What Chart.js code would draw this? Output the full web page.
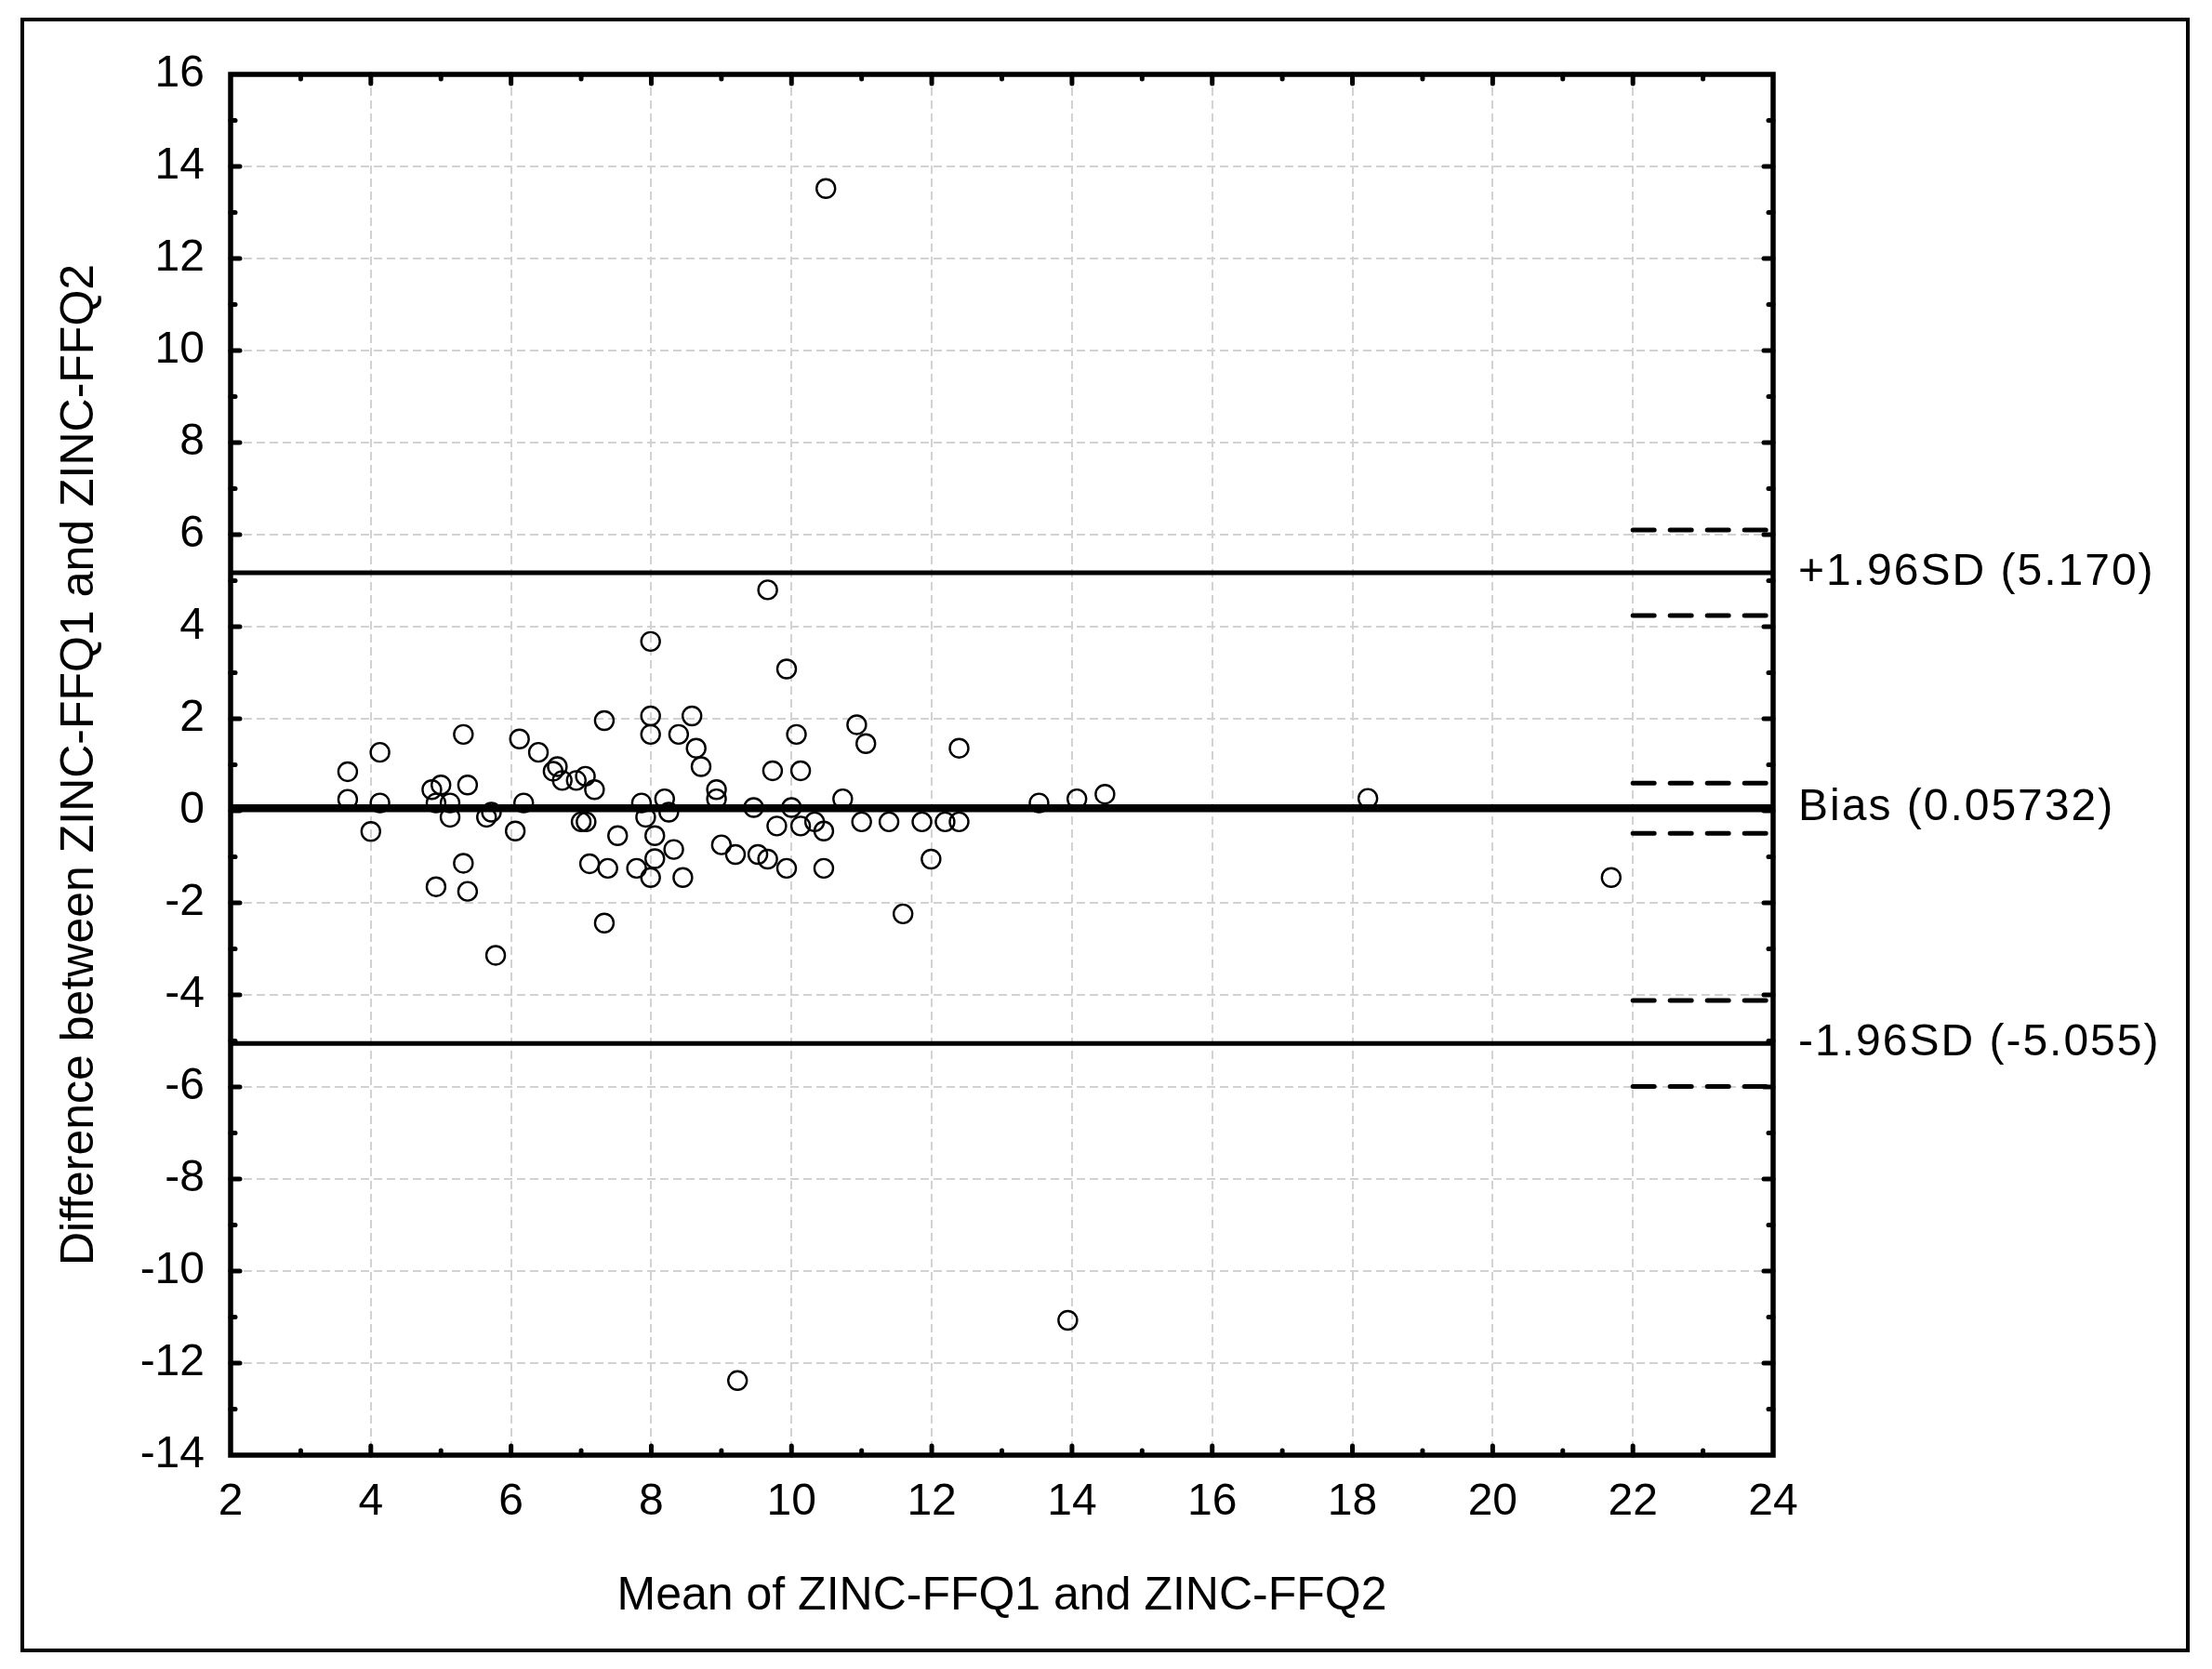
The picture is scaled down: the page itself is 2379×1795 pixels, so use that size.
<!DOCTYPE html>
<html>
<head>
<meta charset="utf-8">
<script src="https://cdn.jsdelivr.net/npm/chart.js@4.4.1/dist/chart.umd.min.js"></script>
<style>
  html, body { margin: 0; padding: 0; background: #fff; }
  #wrap { width: 2379px; height: 1795px; }
</style>
</head>
<body>
<div id="wrap"><canvas id="bland" width="2379" height="1795"></canvas></div>
<script>
// Bland-Altman data: mean of the two FFQs (x) and their difference (y)
const meanValues = [
  3.67, 3.67, 4.00, 4.13, 4.13, 4.87, 5.00, 4.93, 5.13, 5.13,
  4.93, 5.32, 5.38, 5.32, 5.38, 5.65, 5.72, 5.78, 6.06, 6.12,
  6.18, 6.39, 6.66, 6.60, 6.73, 6.93, 7.06, 7.19, 7.00, 7.07,
  7.33, 7.12, 7.38, 7.33, 7.52, 7.79, 7.86, 7.92, 7.99, 7.99,
  7.99, 7.99, 8.05, 8.05, 8.19, 8.25, 8.32, 8.39, 8.45, 8.58,
  8.64, 8.71, 8.93, 8.93, 9.00, 9.20, 9.46, 9.52, 9.66, 9.66,
  9.73, 9.79, 9.93, 9.93, 10.00, 10.07, 10.13, 10.13, 10.33, 10.46,
  10.46, 10.73, 10.93, 11.00, 11.06, 11.39, 11.59, 11.86, 11.99, 12.19,
  12.39, 12.39, 13.53, 14.07, 14.47, 10.49, 9.23, 13.94, 18.22, 21.69
];
const diffValues = [
  0.85, 0.25, -0.45, 1.27, 0.17, 0.46, 0.56, 0.17, 0.17, -0.14,
  -1.65, 1.66, 0.56, -1.14, -1.75, -0.14, -0.03, -3.14, -0.44, 1.56,
  0.17, 1.27, 0.96, 0.86, 0.66, 0.66, 0.75, 0.46, -0.24, -0.24,
  1.96, -1.15, -1.25, -2.44, -0.54, -1.25, 0.17, -0.14, 3.68, 2.06,
  1.66, -1.45, -0.54, -1.04, 0.26, -0.03, -0.84, 1.66, -1.45, 2.06,
  1.36, 0.96, 0.46, 0.26, -0.74, -0.95, 0.07, -0.95, -1.05, 4.80,
  0.87, -0.33, 3.08, -1.25, 0.07, 1.66, 0.87, -0.33, -0.24, -0.44,
  -1.25, 0.26, 1.87, -0.24, 1.46, -0.24, -2.24, -0.24, -1.05, -0.24,
  -0.24, 1.36, 0.17, 0.26, 0.36, 13.52, -12.38, -11.07, 0.27, -1.45
];

// bias and limits of agreement, with their confidence limits
const limitValues = [5.170, 0.05732, -5.055];
const limitLabels = ["+1.96SD (5.170)", "Bias (0.05732)", "-1.96SD (-5.055)"];
const limitWidths = [5, 8.5, 5];
const ciValues = [6.10, 4.24, 0.60, -0.49, -4.12, -5.99];
const ciRange = [22, 24];

const xRange = [2, 24];
const yRange = [-14, 16];
const xTitle = "Mean of ZINC-FFQ1 and ZINC-FFQ2";
const yTitle = "Difference between ZINC-FFQ1 and ZINC-FFQ2";

const FONT = '"Liberation Sans", Arial, sans-serif';

const datasets = [{
  label: "points",
  data: meanValues.map((m, i) => ({ x: m, y: diffValues[i] })),
  pointStyle: "circle",
  pointRadius: 10,
  pointBorderWidth: 2.4,
  pointBorderColor: "#000",
  pointBackgroundColor: "rgba(0,0,0,0)",
  showLine: false
}];

limitValues.forEach((v, i) => {
  datasets.push({
    label: limitLabels[i],
    data: [{ x: xRange[0], y: v }, { x: xRange[1], y: v }],
    showLine: true,
    borderColor: "#000",
    borderWidth: limitWidths[i],
    pointRadius: 0
  });
});

ciValues.forEach(v => {
  datasets.push({
    label: "ci",
    data: [{ x: ciRange[0], y: v }, { x: ciRange[1], y: v }],
    showLine: true,
    borderColor: "#000",
    borderWidth: 5,
    borderDash: [23, 17],
    borderCapStyle: "round",
    pointRadius: 0
  });
});

// inward ticks, plot frame, outer frame and the limit labels
const framePlugin = {
  id: "frame",
  afterDraw(chart) {
    const { ctx, chartArea: a, scales: { x, y } } = chart;
    const seg = (x1, y1, x2, y2) => {
      ctx.beginPath(); ctx.moveTo(x1, y1); ctx.lineTo(x2, y2); ctx.stroke();
    };
    ctx.save();
    ctx.strokeStyle = "#000";
    ctx.lineWidth = 5;
    ctx.lineCap = "round";
    for (let v = xRange[0] + 1; v < xRange[1]; v++) {
      const px = x.getPixelForValue(v);
      const len = v % 2 === 0 ? 10 : 5;
      seg(px, a.bottom, px, a.bottom - len);
      seg(px, a.top, px, a.top + len);
    }
    for (let v = yRange[0] + 1; v < yRange[1]; v++) {
      const py = y.getPixelForValue(v);
      const len = v % 2 === 0 ? 10 : 5;
      seg(a.left, py, a.left + len, py);
      seg(a.right, py, a.right - len, py);
    }
    ctx.lineCap = "butt";
    ctx.lineWidth = 5.5;
    ctx.strokeRect(a.left, a.top, a.right - a.left, a.bottom - a.top);

    ctx.lineWidth = 4;
    ctx.strokeRect(24, 21, 2353 - 24, 1775 - 21);

    ctx.fillStyle = "#000";
    ctx.font = "48px " + FONT;
    ctx.textAlign = "left";
    ctx.textBaseline = "middle";
    if ("letterSpacing" in ctx) ctx.letterSpacing = "2px";
    limitValues.forEach((v, i) => {
      ctx.fillText(limitLabels[i], a.right + 27, y.getPixelForValue(v));
    });
    ctx.restore();
  }
};

const gridColor = "#d2d2d2";

new Chart(document.getElementById("bland").getContext("2d"), {
  type: "scatter",
  data: { datasets },
  plugins: [framePlugin],
  options: {
    responsive: false,
    devicePixelRatio: 1,
    animation: false,
    layout: { padding: { top: 80, right: 472, bottom: 0, left: 0 } },
    plugins: {
      legend: { display: false },
      tooltip: { enabled: false }
    },
    scales: {
      x: {
        type: "linear",
        position: "bottom",
        min: xRange[0],
        max: xRange[1],
        afterFit: s => { s.height = 230; },
        ticks: {
          stepSize: 2,
          color: "#000",
          padding: 22,
          maxRotation: 0,
          autoSkip: false,
          font: { family: FONT, size: 48 }
        },
        grid: { color: gridColor, lineWidth: 2, drawTicks: false },
        border: { display: false, dash: [9, 5] },
        title: {
          display: true,
          text: xTitle,
          color: "#000",
          font: { family: FONT, size: 50 },
          padding: { top: 0, bottom: 48 }
        }
      },
      y: {
        type: "linear",
        position: "left",
        min: yRange[0],
        max: yRange[1],
        afterFit: s => { s.width = 248; },
        ticks: {
          stepSize: 2,
          color: "#000",
          padding: 28,
          autoSkip: false,
          font: { family: FONT, size: 48 }
        },
        grid: { color: gridColor, lineWidth: 2, drawTicks: false },
        border: { display: false, dash: [9, 5] },
        title: {
          display: true,
          text: yTitle,
          color: "#000",
          font: { family: FONT, size: 50 },
          padding: { top: 56, bottom: 0 }
        }
      }
    }
  }
});
</script>
</body>
</html>
